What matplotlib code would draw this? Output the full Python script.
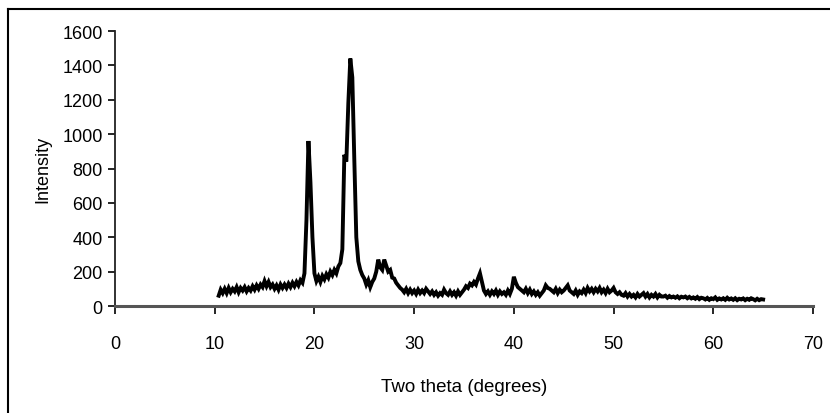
import numpy as np
import matplotlib
matplotlib.use("Agg")
import matplotlib.pyplot as plt
from matplotlib.lines import Line2D

plt.rcParams['font.family'] = ['Liberation Sans', 'DejaVu Sans']

# Two-theta grid (degrees), 0.2 deg step from 10.4 to 65.0
two_theta = np.round(np.arange(10.4, 65.0001, 0.2), 1)

intensity = [
    60, 95, 75,
    100, 75, 105, 80, 100,
    85, 110, 80, 105, 90,
    110, 85, 105, 90, 115,
    95, 120, 100, 125, 110,
    145, 115, 140, 110, 125,
    100, 120, 95, 125, 105,
    125, 105, 130, 110, 135,
    115, 140, 120, 150, 135,
    190, 500, 960, 720, 400,
    190, 145, 170, 140, 175,
    155, 185, 165, 200, 180,
    210, 190, 230, 250, 330,
    880, 840, 1180, 1440, 1330,
    850, 400, 260, 210, 180,
    160, 125, 150, 110, 140,
    160, 200, 270, 225, 210,
    270, 235, 200, 210, 165,
    160, 135, 120, 105, 95,
    80, 100, 75, 95, 75,
    90, 70, 95, 75, 90,
    75, 100, 85, 70, 85,
    65, 80, 60, 75, 65,
    95, 75, 65, 85, 65,
    80, 60, 85, 65, 80,
    95, 115, 105, 130, 120,
    140, 125, 160, 190, 140,
    90, 70, 85, 65, 85,
    70, 90, 65, 85, 70,
    80, 65, 90, 70, 100,
    170, 135, 110, 100, 90,
    80, 100, 75, 95, 70,
    85, 65, 80, 60, 75,
    90, 120, 105, 100, 90,
    80, 100, 75, 95, 80,
    90, 105, 120, 90, 80,
    70, 90, 65, 85, 75,
    95, 75, 105, 85, 100,
    80, 100, 85, 105, 80,
    95, 75, 100, 80, 90,
    105, 80, 70, 80, 65,
    60, 75, 55, 70, 55,
    65, 50, 70, 55, 65,
    75, 55, 70, 50, 65,
    55, 70, 50, 65, 55,
    55, 60, 48, 58, 50,
    55, 48, 56, 45, 54,
    50, 55, 45, 53, 44,
    50, 42, 52, 40, 48,
    45, 38, 47, 36, 45,
    40, 50, 36, 44, 38,
    45, 36, 48, 38, 44,
    36, 45, 34, 42, 38,
    44, 34, 42, 36, 45,
    40, 33, 42, 34, 40,
    38,
]

x_ticks = [0, 10, 20, 30, 40, 50, 60, 70]
y_ticks = [0, 200, 400, 600, 800, 1000, 1200, 1400, 1600]

W, H = 830, 414
fig = plt.figure(figsize=(W / 100, H / 100), dpi=100)
ax = fig.add_axes([115 / W, (H - 307) / H, (813 - 115) / W, (307 - 32) / H])

ax.plot(two_theta[:len(intensity)], intensity, color='black', lw=2.8, solid_joinstyle='miter')

ax.set_xlim(0, 70)
ax.set_ylim(0, 1600)
ax.set_xticks(x_ticks)
ax.set_yticks(y_ticks)
ax.tick_params(axis='x', direction='out', length=6, width=1.2, pad=15, labelsize=13, colors='black')
ax.tick_params(axis='y', direction='out', length=5, width=1.2, pad=4, labelsize=13, colors='black')

ax.spines['top'].set_visible(False)
ax.spines['right'].set_visible(False)
ax.spines['left'].set_color('#222222')
ax.spines['left'].set_linewidth(1.3)
ax.spines['bottom'].set_color('#555555')
ax.spines['bottom'].set_linewidth(2.2)

ax.set_ylabel('Intensity', fontsize=13, labelpad=8)
fig.text(464 / W, 1 - 388 / H, 'Two theta (degrees)', ha='center', va='center', fontsize=13.5)

# outer frame
fig.add_artist(Line2D([8 / W, 8 / W], [0, 1 - 10 / H], transform=fig.transFigure, color='black', lw=1.5))
fig.add_artist(Line2D([8 / W, 1], [1 - 10 / H, 1 - 10 / H], transform=fig.transFigure, color='black', lw=1.5))

fig.savefig('out.png', dpi=100)
